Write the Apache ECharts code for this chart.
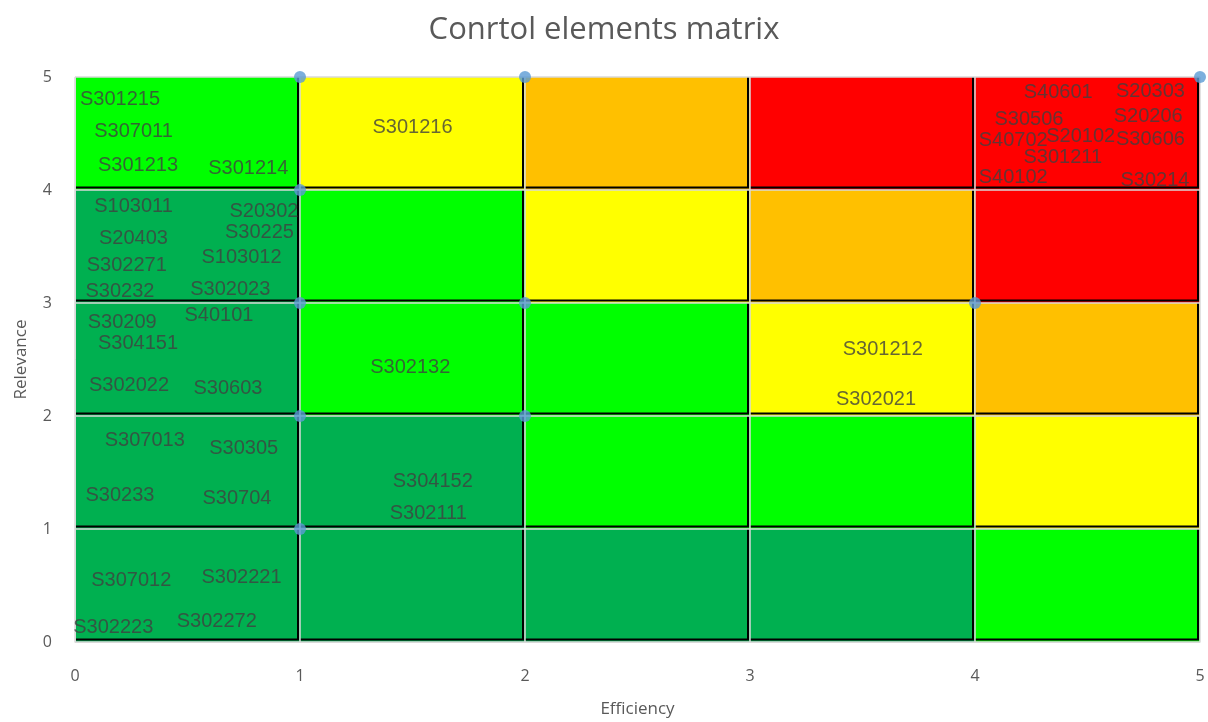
<!DOCTYPE html>
<html>
<head>
<meta charset="utf-8">
<script src="https://cdn.jsdelivr.net/npm/echarts@6/dist/echarts.min.js"></script>
<style>html,body{margin:0;padding:0;background:#fff;}#c{width:1208px;height:722px;}</style>
</head>
<body>
<div id="c"></div>
<script>
// Cell colours, rows from bottom (relevance 0-1) to top (4-5), columns efficiency 0-1 .. 4-5
const DG = '#00B050', G = '#00FF00', Y = '#FFFF00', O = '#FFC000', R = '#FF0000';
const cellRows = [
  [DG, DG, DG, DG, G],
  [DG, DG, G, G, Y],
  [DG, G, G, Y, O],
  [DG, G, Y, O, R],
  [G, Y, O, R, R]
];
// Blue marker points
const dotX = [1, 2, 5, 1, 1, 2, 4, 1, 2, 1];
const dotY = [5, 5, 5, 4, 3, 3, 3, 2, 2, 1];
// Control element labels
const names = ['S301215','S307011','S301213','S301214','S103011','S20302','S20403','S30225','S302271','S103012',
  'S30232','S302023','S30209','S40101','S304151','S302022','S30603','S307013','S30305','S30233','S30704',
  'S307012','S302221','S302223','S302272','S301216','S302132','S304152','S302111','S301212','S302021',
  'S40601','S20303','S30506','S20206','S40702','S20102','S30606','S301211','S40102','S30214'];
const effX = [0.20,0.26,0.28,0.77,0.26,0.84,0.26,0.82,0.23,0.74,
  0.20,0.69,0.21,0.64,0.28,0.24,0.68,0.31,0.75,0.20,0.72,
  0.25,0.74,0.17,0.63,1.50,1.49,1.59,1.57,3.59,3.56,
  4.37,4.78,4.24,4.77,4.17,4.47,4.78,4.39,4.17,4.80];
const relY = [4.80,4.52,4.22,4.19,3.85,3.81,3.57,3.62,3.33,3.40,
  3.10,3.12,2.83,2.89,2.64,2.27,2.24,1.78,1.71,1.30,1.27,
  0.54,0.57,0.13,0.18,4.55,2.43,1.42,1.14,2.59,2.15,
  4.86,4.87,4.62,4.65,4.44,4.47,4.45,4.29,4.11,4.08];

const cellData = [];
cellRows.forEach((row, r) => row.forEach((c, col) => cellData.push({value: [col, r], itemStyle: {color: c}})));

const chart = echarts.init(document.getElementById('c'));
chart.setOption({
  animation: false,
  title: {
    text: 'Conrtol elements matrix', left: 'center', top: 10,
    textStyle: {fontFamily: 'Open Sans', fontSize: 31, fontWeight: 'normal', color: '#595959'}
  },
  grid: {left: 75, right: 8, top: 77, bottom: 80, outerBoundsMode: 'none', containLabel: false},
  xAxis: {
    type: 'value', min: 0, max: 5, interval: 1, z: 5,
    name: 'Efficiency', nameLocation: 'middle', nameGap: 59,
    nameTextStyle: {fontFamily: 'Open Sans', fontSize: 17, color: '#595959'},
    axisLine: {show: true, lineStyle: {color: '#d9d9d9', width: 1}},
    axisTick: {show: false},
    axisLabel: {margin: 26, fontFamily: 'Open Sans', fontSize: 16, color: '#595959'},
    splitLine: {show: true, lineStyle: {color: '#d9d9d9', width: 1.5}}
  },
  yAxis: {
    type: 'value', min: 0, max: 5, interval: 1, z: 5,
    name: 'Relevance', nameLocation: 'middle', nameGap: 45,
    nameTextStyle: {fontFamily: 'Open Sans', fontSize: 17, color: '#595959'},
    axisLine: {show: true, lineStyle: {color: '#d9d9d9', width: 1}},
    axisTick: {show: false},
    axisLabel: {margin: 23, fontFamily: 'Open Sans', fontSize: 16, color: '#595959'},
    splitLine: {show: true, lineStyle: {color: '#d9d9d9', width: 1.5}}
  },
  series: [
    {
      type: 'custom', z: 1, silent: true,
      data: cellData,
      renderItem: function (params, api) {
        const x = api.value(0), y = api.value(1);
        const p0 = api.coord([x, y + 1]);
        const p1 = api.coord([x + 1, y]);
        const color = api.visual('color');
        return {
          type: 'group',
          children: [
            {type: 'rect', shape: {x: p0[0], y: p0[1], width: p1[0] - p0[0], height: p1[1] - p0[1]}, style: {fill: color}},
            {type: 'line', shape: {x1: p1[0] - 2, y1: p0[1], x2: p1[0] - 2, y2: p1[1] - 2}, style: {stroke: '#000', lineWidth: 2}},
            {type: 'line', shape: {x1: p0[0], y1: p1[1] - 2.5, x2: p1[0] - 1, y2: p1[1] - 2.5}, style: {stroke: '#000', lineWidth: 2}}
          ]
        };
      }
    },
    {
      type: 'scatter', z: 10, symbolSize: 0, silent: true,
      data: names.map((n, i) => ({name: n, value: [effX[i], relY[i]]})),
      label: {
        show: true, position: 'inside', formatter: '{b}',
        fontFamily: 'Liberation Sans', fontSize: 20, color: '#404040'
      }
    },
    {
      type: 'scatter', z: 11, symbol: 'circle', symbolSize: 12,
      itemStyle: {color: '#5B9BD5'},
      data: dotX.map((x, i) => [x, dotY[i]])
    }
  ]
});
</script>
</body>
</html>
